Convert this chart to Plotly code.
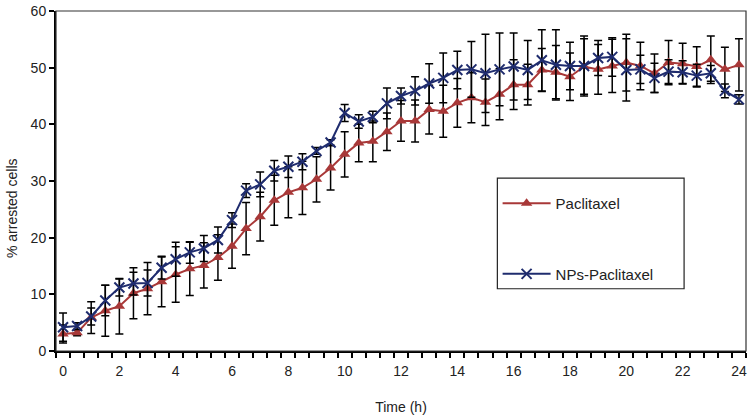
import plotly.graph_objects as go

time_h = [i * 0.5 for i in range(49)]

paclitaxel = [3.0, 3.2, 5.9, 7.1, 7.9, 10.2, 11.0, 12.2, 13.5, 14.5,
              15.1, 16.5, 18.5, 21.6, 23.7, 26.6, 28.0, 28.8, 30.3, 32.3,
              34.7, 36.7, 37.0, 38.7, 40.6, 40.6, 42.6, 42.3, 43.8, 44.7,
              43.9, 45.3, 47.0, 47.0, 49.6, 49.2, 48.4, 50.2, 49.7, 50.3,
              50.9, 50.3, 49.0, 50.9, 50.7, 50.2, 51.4, 49.7, 50.5]
paclitaxel_err = [1.6, 0.5, 2.8, 4.5, 4.9, 4.5, 4.6, 4.4, 4.9, 4.7,
                  4.0, 4.0, 3.9, 4.6, 4.3, 4.4, 4.5, 4.7, 4.0, 3.9,
                  4.0, 3.3, 3.6, 3.3, 3.6, 3.7, 4.3, 4.6, 4.3, 4.4,
                  4.1, 4.5, 4.4, 3.6, 3.8, 4.7, 4.2, 4.9, 4.4, 4.7,
                  5.0, 4.2, 3.4, 3.9, 3.6, 3.5, 4.2, 3.9, 4.6]

nps_paclitaxel = [4.2, 4.4, 6.1, 8.9, 11.2, 11.9, 12.0, 14.7, 16.2, 17.4,
                  18.1, 19.6, 23.1, 28.3, 29.4, 31.8, 32.5, 33.4, 35.3, 36.8,
                  42.0, 40.5, 41.3, 43.7, 45.0, 45.9, 47.2, 48.2, 49.6, 49.7,
                  49.0, 49.7, 50.2, 49.6, 51.3, 50.5, 50.3, 50.3, 51.7, 51.9,
                  49.6, 49.7, 48.2, 49.3, 49.2, 48.6, 49.0, 45.9, 44.4]
nps_err = [2.5, 0.6, 1.5, 2.7, 1.5, 2.0, 2.3, 2.0, 3.0, 1.9,
           2.3, 2.3, 1.3, 1.2, 2.2, 1.8, 1.9, 1.4, 0.6, 0.5,
           1.5, 1.2, 1.0, 2.7, 1.4, 2.5, 3.5, 4.4, 3.3, 4.9,
           6.9, 6.4, 5.9, 5.2, 5.4, 6.2, 4.2, 5.3, 3.1, 3.4,
           5.5, 2.5, 2.6, 2.1, 2.0, 2.0, 1.4, 1.2, 0.8]

x_tick_vals = list(range(0, 25, 2))
y_tick_vals = list(range(0, 61, 10))

RED = "#A83838"
BLUE = "#1F2C6E"
FONT = "Liberation Sans, Arial, sans-serif"

fig = go.Figure()
fig.add_trace(go.Scatter(
    x=time_h, y=paclitaxel, name="Paclitaxel", mode="lines+markers",
    line=dict(color=RED, width=2),
    marker=dict(symbol="triangle-up", size=10, color=RED),
    error_y=dict(type="data", array=paclitaxel_err, visible=True,
                 color="black", thickness=1.5, width=4),
    legendgroup="a"))
fig.add_trace(go.Scatter(
    x=time_h, y=nps_paclitaxel, name="NPs-Paclitaxel", mode="lines+markers",
    line=dict(color=BLUE, width=2),
    marker=dict(symbol="x-thin", size=10, color=BLUE,
                line=dict(color=BLUE, width=2)),
    error_y=dict(type="data", array=nps_err, visible=True,
                 color="black", thickness=1.5, width=4),
    legendgroup="b"))

fig.update_layout(
    width=750, height=416,
    margin=dict(l=56, r=3, t=8, b=64),
    paper_bgcolor="white", plot_bgcolor="white",
    font=dict(family=FONT, size=14, color="#222222"),
    showlegend=True,
    legend=dict(x=0.64, y=0.482, xanchor="left", yanchor="top",
                bgcolor="rgba(0,0,0,0)", borderwidth=0, itemwidth=48,
                tracegroupgap=48, traceorder="grouped",
                font=dict(size=15, family=FONT, color="#222222")),
    shapes=[
        dict(type="rect", xref="paper", yref="paper", x0=0, x1=1, y0=0, y1=1,
             line=dict(color="#333333", width=1.2), layer="above"),
        dict(type="rect", xref="paper", yref="paper",
             x0=(498 - 56) / 691.0, x1=(685 - 56) / 691.0,
             y0=(352 - 289) / 344.0, y1=(352 - 177) / 344.0,
             line=dict(color="#222222", width=1.2), layer="above"),
    ],
    annotations=[
        dict(text="% arrested cells", xref="paper", yref="paper",
             x=-0.064, y=0.42, xanchor="center", yanchor="middle",
             textangle=-90, showarrow=False,
             font=dict(size=14, family=FONT, color="#222222")),
    ],
)

fig.update_xaxes(
    range=[-0.25, 24.25], tickmode="array", tickvals=x_tick_vals,
    ticktext=[str(v) for v in x_tick_vals],
    ticks="outside", ticklen=6, tickcolor="rgba(0,0,0,0)",
    minor=dict(tickmode="linear", tick0=-0.25, dtick=0.5, ticks="outside",
               ticklen=5, tickcolor="black", tickwidth=1.5, showgrid=False),
    showline=True, linecolor="black", linewidth=2, showgrid=False,
    zeroline=False,
    title=dict(text="Time (h)", font=dict(size=14), standoff=24),
)
fig.update_yaxes(
    range=[0, 60], tickmode="array", tickvals=y_tick_vals,
    ticks="outside", ticklen=5, tickcolor="black", tickwidth=1.5,
    ticklabeloverflow="allow",
    showline=True, linecolor="black", linewidth=2, showgrid=False,
    zeroline=False,
)

fig.write_html("out.html", config={"displayModeBar": False},
               post_script="document.body.style.margin='0';document.body.style.padding='0';")
